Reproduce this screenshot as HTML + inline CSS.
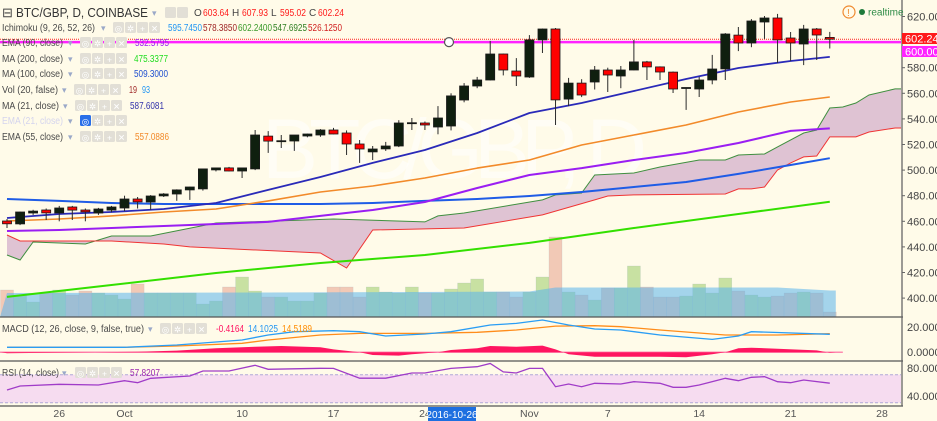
<!DOCTYPE html>
<html><head><meta charset="utf-8">
<style>
html,body{margin:0;padding:0;background:#fffbe9;}
svg{display:block;font-family:"Liberation Sans",sans-serif;}
</style></head>
<body>
<svg id="chart" width="937" height="421" viewBox="0 0 937 421" xmlns="http://www.w3.org/2000/svg">
<rect x="0" y="0" width="937" height="421" fill="#fffbe9"/>
<defs><clipPath id="mainClip"><rect x="0" y="0" width="901" height="317"/></clipPath>
<clipPath id="macdClip"><rect x="0" y="318" width="901" height="42"/></clipPath>
<clipPath id="rsiClip"><rect x="0" y="362" width="901" height="44"/></clipPath></defs>
<text x="262" y="178" font-size="84" fill="#ffffff" fill-opacity="0.55" textLength="385">BTC/GBP, D</text>
<g id="main" clip-path="url(#mainClip)"></g>
<g id="macd" clip-path="url(#macdClip)"></g>
<g id="rsi" clip-path="url(#rsiClip)"></g>
<g id="axes"></g>
<g id="legend"></g>
</svg>
<script>
// ---------- data ----------
var opens=[460.2,458.0,466.5,468.8,466.5,471.2,468.8,466.5,468.8,470.4,477.4,475.1,479.8,481.3,484.5,485.3,500.1,501.7,499.3,500.9,526.6,522.7,522.7,526.6,527.4,531.3,529.0,520.4,514.2,516.5,518.8,536.8,536.8,533.7,534.5,554.8,565.7,570.4,590.7,577.4,572.7,601.7,610.2,555.5,568.0,568.8,578.2,573.5,578.2,584.5,580.6,576.6,564.0,563.4,570.4,579.0,605.5,599.3,615.7,618.8,603.2,598.5,610.2,603.64];
var highs=[461.8,467.5,469.0,470.0,472.0,472.0,470.0,470.5,472.0,480.0,479.0,480.5,482.0,485.0,487.0,501.0,502.0,502.5,502.0,531.3,530.5,527.4,527.4,528.5,532.0,533.0,531.0,523.5,518.8,522.0,539.0,540.7,538.0,550.0,560.0,568.0,572.8,600.9,591.0,587.5,605.5,610.6,611.0,572.0,571.0,581.3,580.0,581.3,601.7,585.3,581.0,577.0,564.5,572.8,590.0,607.0,611.8,618.0,620.4,622.0,607.9,613.4,611.0,607.93];
var lows=[454.8,457.0,465.0,461.0,460.0,461.0,460.0,465.0,467.0,468.0,470.0,469.0,479.0,476.0,476.7,484.0,499.0,499.0,493.8,500.0,513.4,517.3,515.0,525.6,526.0,528.0,511.8,505.6,507.9,515.0,518.0,531.3,531.3,528.0,531.0,553.0,564.0,570.0,574.0,565.7,572.0,591.5,535.2,550.0,557.0,563.0,561.0,564.0,578.0,570.4,570.4,560.2,547.0,557.1,567.0,570.4,593.0,596.0,602.5,583.7,585.3,582.0,586.0,595.02];
var closes=[458.0,467.3,468.0,466.5,470.4,468.8,467.3,469.6,471.2,477.4,475.1,479.8,481.3,484.5,486.8,500.9,501.7,499.3,501.7,527.4,522.7,523.0,527.4,528.2,531.3,528.2,520.4,516.5,516.5,518.8,536.8,537.0,535.2,540.7,558.0,565.7,570.4,590.7,578.2,573.5,601.7,610.2,554.8,568.0,558.7,578.2,574.3,578.2,584.5,580.6,576.6,563.4,564.5,570.4,579.0,606.3,599.3,616.5,618.8,601.7,599.3,610.2,605.5,602.24];
var volumes=[270,220,150,240,270,220,260,240,220,180,330,240,240,240,240,130,160,300,400,260,200,200,160,160,240,300,300,200,300,250,240,300,240,240,280,340,380,250,250,200,250,400,800,250,220,170,290,290,510,300,200,200,210,330,240,390,260,220,200,210,240,250,240,50];
var volMaIdx=[0,20,40,42,59,63];
var volMaVals=[240,245,255,295,295,265];
var lineIdx=[0,4,8,12,16,20,24,28,32,36,40,44,48,52,56,60,63];
var ma21=[462.6,465.7,467.3,469.6,474.3,484.5,494.6,505.6,515.7,529.0,544.6,552.4,561.8,571.2,579.8,585.2,588.4];
var ema55=[460.2,461.8,464.2,467.3,469.6,475.9,482.9,487.6,493.8,501.6,507.9,519.6,527.4,535.2,545.4,553.2,557.1];
var ema90=[452.4,453.2,454.8,456.3,457.9,459.5,464.2,468.8,475.1,486.0,496.2,501.6,507.9,513.4,521.2,530.6,532.6];
var ma100=[477.4,475.9,474.3,473.5,473.5,473.5,473.5,474.3,475.9,477.4,479.8,482.9,486.8,490.7,497.0,504.0,509.3];
var ma200Idx=[0,8,16,24,32,40,48,56,63];
var ma200=[400.9,410.2,419.6,427.4,433.7,443.1,454.8,465.7,475.3];
var spanAIdx=[0,1,2,6,8,11,16,25,32,33,35,41,42,44,45,48,50,53,55,56,58,59,61,62,63,64,65,66,68,69];
var spanA=[433.7,429.8,443.8,442.3,448.5,448.5,458.7,461.8,459.5,464.2,466.5,476.7,480.6,482.1,496.2,497.7,502.4,507.9,507.9,511.8,512.6,518.1,529.0,531.3,548.5,549.3,552.4,558.7,563.4,563.4];
var spanBIdx=[0,1,8,12,14,24,26,28,35,41,45,46,48,55,56,57,58,59,60,61,62,63,65,66,68,69];
var spanB=[449.3,444.6,444.6,442.3,440.0,435.2,423.5,453.2,454.8,465.0,476.7,479.8,480.6,481.3,485.3,485.3,486.8,500.1,505.6,510.3,511.0,525.9,525.9,529.8,532.9,532.9];
var macdIdx=[0,9,13,18,20,22,25,27,29,32,34,37,39,41,43,45,47,50,54,56,57,59,63];
var macdLine=[3.9,3.9,5.7,9.6,13.5,16.1,16.9,16.1,12.7,14.3,16.1,21.3,22.6,25.2,21.3,18.2,17.4,13.5,10.1,12.7,16.1,15.5,14.1];
var signalIdx=[0,9,13,18,20,24,27,32,36,39,42,45,47,50,55,59,63];
var signalLine=[3.9,3.9,4.9,7.0,9.6,13.5,14.8,14.8,15.6,17.4,20.5,20.8,20.0,17.4,13.5,13.5,14.5];
var histIdx=[0,10,13,16,19,21,24,25,27,28,30,31,33,34,36,37,39,41,42,43,45,50,52,54,55,56,57,59,62,63];
var histVals=[-0.8,0.5,1.3,3.1,4.4,4.9,3.9,2.3,0,-2.1,-2.6,-1.6,0,1.8,3.1,4.9,4.4,5.2,2.3,-1.6,-3.4,-3.4,-3.9,-1.6,0,3.1,3.6,2.8,1.5,-0.4];
var rsiIdx=[0,1,4,7,9,10,11,14,15,17,19,20,24,25,27,29,31,32,34,36,37,38,39,40,41,42,43,44,45,47,48,50,51,52,53,55,56,57,58,59,60,61,63];
var rsiVals=[48.1,53.9,56.3,55.3,61.4,58.6,64.9,68.1,75.3,75.3,83.4,77.7,79.1,79,65,65,72.4,72.4,79,81.4,86,74,72.4,79,79,52.9,56.7,52.9,57.7,56.7,60,57.7,52,52,55.3,64.8,61.4,66.3,67.2,60,58.6,62.4,57.8];
var priceTicks=[620,580,560,540,520,500,480,460,440,420,400];
var dateLabels=["26","Oct","10","17","24","Nov","7","14","21","28"];
var dateIdx=[4,9,18,25,32,40,46,53,60,67];

// ---------- scales ----------
function xs(i){return 7+13.06*i;}
function yp(v){return 16.5+(620-v)*1.28;}
function yv(v){return 317-v*0.1;}
function ym(v){return 352.3-1.28*v;}
function yr(v){return 367.7+(80-v)*0.7;}
var NS="http://www.w3.org/2000/svg";
function mk(parent,tag,attrs){var e=document.createElementNS(NS,tag);for(var k in attrs)e.setAttribute(k,attrs[k]);parent.appendChild(e);return e;}
function pts(idx,vals,yf){return idx.map(function(d,k){return xs(d).toFixed(1)+","+yf(vals[k]).toFixed(1);}).join(" ");}
var main=document.getElementById("main"),macd=document.getElementById("macd"),rsi=document.getElementById("rsi"),axes=document.getElementById("axes"),legend=document.getElementById("legend");
var el;

// cloud
var cloudPts=pts(spanAIdx,spanA,yp)+" "+spanBIdx.slice().reverse().map(function(d,k){var j=spanBIdx.length-1-k;return xs(d).toFixed(1)+","+yp(spanB[j]).toFixed(1);}).join(" ");
el=mk(main,"polygon",{points:cloudPts,fill:"#dcbdd0","fill-opacity":"0.9"});


el=mk(main,"polyline",{points:pts(spanAIdx,spanA,yp),fill:"none",stroke:"#3f8f3f","stroke-width":"1"});


el=mk(main,"polyline",{points:pts(spanBIdx,spanB,yp),fill:"none",stroke:"#f03434","stroke-width":"1"});



// volume
volumes.forEach(function(v,i){
  var up=closes[i]>=opens[i];
  var b=mk(main,"rect",{x:(xs(i)-6.5).toFixed(1),y:yv(v).toFixed(1),width:"13",height:(317-yv(v)).toFixed(1),fill:up?"#b5d88a":"#eeb8a4","fill-opacity":"0.75",stroke:"#9fb0c0","stroke-opacity":"0.35","stroke-width":"0.5"});
  
  
});
var vmaPts=(xs(volMaIdx[0])-7)+",317 "+pts(volMaIdx,volMaVals,yv)+" "+(xs(volMaIdx[volMaIdx.length-1])+6)+","+yv(volMaVals[volMaVals.length-1])+" "+(xs(volMaIdx[volMaIdx.length-1])+6)+",317";
el=mk(main,"polygon",{points:vmaPts,fill:"#5ab4ec","fill-opacity":"0.55"});



// MA lines
function drawLine(idx,vals,color,name,w){
  var l=mk(main,"polyline",{points:pts(idx,vals,yp),fill:"none",stroke:color,"stroke-width":w||"1.6","stroke-linejoin":"round"});
  
  
}
drawLine(ma200Idx,ma200,"#33e000","ma-200-line","2");
drawLine(lineIdx,ma100,"#1f5ce6","ma-100-line","2");
drawLine(lineIdx,ema90,"#9a1ef2","ema-90-line","2");
drawLine(lineIdx,ema55,"#f28a2a","ema-55-line","1.6");
drawLine(lineIdx,ma21,"#2a2ab8","ma-21-line","1.8");

// horizontal lines
el=mk(main,"line",{x1:0,x2:901,y1:yp(600),y2:yp(600),stroke:"#ff22ff","stroke-width":"2.5"});


el=mk(main,"line",{x1:0,x2:901,y1:yp(602.24),y2:yp(602.24),stroke:"#ff2020","stroke-width":"1","stroke-dasharray":"1,1"});


el=mk(main,"circle",{cx:449,cy:yp(600),r:4.5,fill:"#ffffff",stroke:"#555","stroke-width":"1.2"});



// candles
opens.forEach(function(o,i){
  var c=closes[i],up=c>=o,x=xs(i);
  var w=mk(main,"line",{x1:x,x2:x,y1:yp(highs[i]).toFixed(1),y2:yp(lows[i]).toFixed(1),stroke:"#2b2b2b","stroke-width":"1"});
  
  
  var top=yp(Math.max(o,c)),h=Math.max(1,Math.abs(yp(o)-yp(c)));
  var b=mk(main,"rect",{x:(x-4.5).toFixed(1),y:top.toFixed(1),width:"9",height:h.toFixed(1),fill:up?"#0f1f0f":"#ff0000",stroke:"#1a1a1a","stroke-width":"0.8"});
  
  
});

// MACD
el=mk(macd,"line",{x1:0,x2:xs(64),y1:ym(0),y2:ym(0),stroke:"#ff8ab0","stroke-width":"1.5"});


var hp=(xs(histIdx[0])-6)+","+ym(0)+" "+pts(histIdx,histVals,ym)+" "+(xs(histIdx[histIdx.length-1])+6)+","+ym(0);
el=mk(macd,"polygon",{points:hp,fill:"#ff1560"});


el=mk(macd,"polyline",{points:pts(signalIdx,signalLine,ym),fill:"none",stroke:"#ff8c1a","stroke-width":"1.3"});


el=mk(macd,"polyline",{points:pts(macdIdx,macdLine,ym),fill:"none",stroke:"#2a9df4","stroke-width":"1.3"});



// RSI
el=mk(rsi,"rect",{x:0,y:yr(70),width:901,height:yr(30)-yr(70),fill:"#f6dcf0"});


[70,30].forEach(function(v){
  var l=mk(rsi,"line",{x1:0,x2:901,y1:yr(v),y2:yr(v),stroke:"#b0a8d8","stroke-width":"1","stroke-dasharray":"3,2"});
  
  
});
el=mk(rsi,"polyline",{points:pts(rsiIdx,rsiVals,yr),fill:"none",stroke:"#a03cc8","stroke-width":"1.3"});



// axes / separators
[[317],[361],[406]].forEach(function(a){
  var l=mk(axes,"line",{x1:0,x2:903,y1:a[0],y2:a[0],stroke:"#555","stroke-width":"1.3"});
  
  
});
el=mk(axes,"line",{x1:902,x2:902,y1:0,y2:406,stroke:"#666","stroke-width":"1.3"});


el=mk(axes,"rect",{x:0,y:407,width:937,height:14,fill:"#fffbe9"});


priceTicks.forEach(function(v){
  var t=mk(axes,"text",{x:907,y:(yp(v)+4).toFixed(1),"font-size":"11",fill:"#444"});
  t.textContent=v.toFixed(2);
  
  
  var tk=mk(axes,"line",{x1:902,x2:905,y1:yp(v),y2:yp(v),stroke:"#666"});
  
  
});
function axLabel(y,txt,name){var t=mk(axes,"text",{x:907,y:y,"font-size":"11",fill:"#444"});t.textContent=txt;}
axLabel(331,"20.0000","macd-tick-label");
axLabel(356,"0.0000","macd-tick-label");
axLabel(372,"80.0000","rsi-tick-label");
axLabel(400,"40.0000","rsi-tick-label");
function badge(y,bg,txt,name){
  var r=mk(axes,"rect",{x:902,y:y,width:35,height:11,fill:bg});
  
  
  var t=mk(axes,"text",{x:905,y:y+9.5,"font-size":"11",fill:"#fff"});
  t.textContent=txt;
  
  
}
badge(33,"#ff1a1a","602.24","last-price-label");
badge(46,"#ff22ff","600.00","line-price-label");
dateLabels.forEach(function(s,k){
  var t=mk(axes,"text",{x:xs(dateIdx[k]),y:417,"font-size":"10.5",fill:"#555","text-anchor":"middle"});
  t.textContent=s;
  
  
});
el=mk(axes,"rect",{x:428,y:407,width:48,height:14,fill:"#1e6fe0"});


el=mk(axes,"text",{x:452,y:418,"font-size":"10","text-anchor":"middle",fill:"#fff"});
el.textContent="2016-10-26";



// legend
function txt(x,y,s,color,size,name,len){
  var a={x:x,y:y,"font-size":size||"10",fill:color||"#4a4a4a"};
  if(len){a.textLength=len;a.lengthAdjust="spacingAndGlyphs";}
  var t=mk(legend,"text",a);t.textContent=s;return t;}
function btns(x,y,name,first){
  for(var k=0;k<4;k++){
    var r=mk(legend,"rect",{x:x+k*12,y:y-9,width:11,height:11,rx:1.5,fill:(k==0&&first)?"#2a6fe8":"#e2dfd6"});
    
    
    var g=mk(legend,"text",{x:x+k*12+5.5,y:y+0.5,"font-size":"8.5","text-anchor":"middle",fill:"#fff"});
    g.textContent=["◎","✲","+","✕"][k];
    
    
  }
}
function btns2(x,y){
  for(var k=0;k<2;k++){
    var r=mk(legend,"rect",{x:x+k*12,y:y-9,width:11,height:11,rx:1.5,fill:"#e2dfd6"});
    
    
  }
}
txt(2,17,"⊟","#444","13","collapse-icon");
txt(16,17,"BTC/GBP, D, COINBASE","#333","13","symbol-title",132);
txt(152,16,"▾","#9aa8c8","9","symbol-dropdown");
btns2(165,16);
txt(194,16,"O","#444","10","ohlc-o");txt(203,16,"603.64","#ff1a1a","10","ohlc-open",26);
txt(232,16,"H","#444","10","ohlc-h");txt(242,16,"607.93","#ff1a1a","10","ohlc-high",26);
txt(271,16,"L","#444","10","ohlc-l");txt(280,16,"595.02","#ff1a1a","10","ohlc-low",26);
txt(309,16,"C","#444","10","ohlc-c");txt(318,16,"602.24","#ff1a1a","10","ohlc-close",26);
var rows=[
 {y:31,n:"Ichimoku (9, 26, 52, 26)",w:93,bx:113,vals:[[168,"595.7450","#2196f3"],[203,"578.3850","#a02828"],[238,"602.2400","#3a9a2a"],[273,"547.6925","#2e7d20"],[308,"526.1250","#d02020"]]},
 {y:46,n:"EMA (90, close)",w:61,bx:80,vals:[[135,"532.5795","#9a1ef2"]]},
 {y:62,n:"MA (200, close)",w:61,bx:80,vals:[[134,"475.3377","#22dd22"]]},
 {y:77,n:"MA (100, close)",w:61,bx:80,vals:[[134,"509.3000","#2050d0"]]},
 {y:93,n:"Vol (20, false)",w:56,bx:74,vals:[[129,"19","#a02828",8],[142,"93","#2196f3",8]]},
 {y:109,n:"MA (21, close)",w:57,bx:75,vals:[[130,"587.6081","#3333aa"]]},
 {y:124,n:"EMA (21, close)",w:61,bx:80,faded:true,vals:[]},
 {y:140,n:"EMA (55, close)",w:61,bx:80,vals:[[135,"557.0886","#f28a2a"]]}
];
rows.forEach(function(r){
  txt(2,r.y,r.n,r.faded?"#d4d4ee":"#4a4a4a","10","indicator-name",r.w);
  txt(r.bx-12,r.y,"▾","#9aa8c8","9","indicator-dropdown");
  btns(r.bx,r.y,"indicator",!!r.faded);
  r.vals.forEach(function(v){txt(v[0],r.y,v[1],v[2],"10","indicator-value",v[3]||34);});
});
txt(2,332,"MACD (12, 26, close, 9, false, true)","#4a4a4a","10","macd-legend-name",142);
txt(148,332,"▾","#9aa8c8","9","macd-dropdown");
btns(160,332,"macd",false);
txt(216,332,"-0.4164","#ff1060","10","macd-hist-value",28);
txt(248,332,"14.1025","#2196f3","10","macd-value",30);
txt(282,332,"14.5189","#ff8c00","10","macd-signal-value",30);
txt(2,376,"RSI (14, close)","#4a4a4a","10","rsi-legend-name",57);
txt(62,376,"▾","#9aa8c8","9","rsi-dropdown");
btns(75,376,"rsi",false);
txt(130,376,"57.8207","#9c27b0","10","rsi-value",30);
// realtime badge
el=mk(legend,"circle",{cx:849,cy:12,r:6,fill:"none",stroke:"#f08a30","stroke-width":"1.2"});


txt(847,16,"!","#f08a30","10","warning-mark");
el=mk(legend,"circle",{cx:862,cy:12,r:3,fill:"#1e7a3a"});


txt(868,15.5,"realtime","#2e8b46","10","realtime-label");
</script>
</body></html>
